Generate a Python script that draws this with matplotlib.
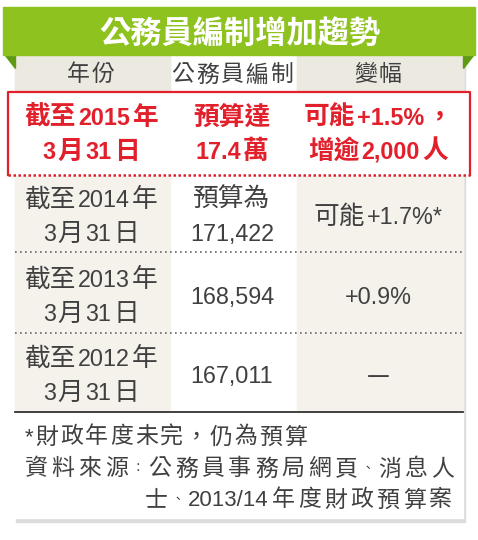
import re
import matplotlib.pyplot as plt
from matplotlib.patches import Rectangle, Polygon

plt.rcParams['font.family'] = ['Noto Sans CJK TC', 'DejaVu Sans']

title = '公務員編制增加趨勢'
headers = ['年份', '公務員編制', '變幅']
years = ['截至2015年\n3月31日', '截至2014年\n3月31日', '截至2013年\n3月31日', '截至2012年\n3月31日']
staff = ['預算達\n17.4萬', '預算為\n171,422', '168,594', '167,011']
change = ['可能+1.5%，\n增逾2,000人', '可能+1.7%*', '+0.9%', '—']
notes = ['*財政年度未完，仍為預算',
         '資料來源：公務員事務局網頁、消息人',
         '士、2013/14年度財政預算案']

GREEN = '#8dc21f'
DGREEN = '#5e9a12'
RED = '#e2202c'
BEIGE = '#f5f2ec'
HEAD = '#ece9e1'
TXT = '#404040'

fig = plt.figure(figsize=(4.78, 5.4), dpi=100)
ax = fig.add_axes([0, 0, 1, 1])
ax.set_xlim(0, 478)
ax.set_ylim(540, 0)
ax.axis('off')
rend = fig.canvas.get_renderer()

LAT = r'[0-9A-Za-z.,/%+*]+'
NARROW = '、：'


def spaced(x, y, s, size, track=1, lat=None, ha='center', per_char=False, **kw):
    # latin runs in Liberation Sans, CJK in Noto; y is the visual centre
    lat = lat or size * 0.92
    if per_char:
        toks = re.findall(LAT + r'|.', s)
    else:
        toks = re.findall(LAT + r'|[^0-9A-Za-z.,/%+*]+', s)
    base = y + 0.37 * size * 100 / 72
    items = []
    for tk in toks:
        b = base
        if re.fullmatch(LAT, tk):
            fk = dict(fontsize=lat, family='Liberation Sans')
        elif per_char and tk in NARROW:
            # centred punctuation drawn smaller so it takes less room
            fk = dict(fontsize=size * 0.55)
            b = base - 0.45 * 0.37 * size * 100 / 72
        else:
            fk = dict(fontsize=size)
        t = ax.text(0, 0, tk, **fk, **kw)
        w = t.get_window_extent(rend).width
        t.remove()
        items.append((tk, fk, w, b))
    total = sum(it[2] for it in items) + track * (len(items) - 1)
    start = {'left': x, 'right': x - total}.get(ha, x - total / 2)
    for tk, fk, w, b in items:
        ax.text(start, b, tk, ha='left', va='baseline', **fk, **kw)
        start += w + track


# card shadow + card
ax.add_patch(Rectangle((16, 58), 449, 464, color='#dcdcdc', zorder=0))
ax.add_patch(Rectangle((15, 55), 448, 463, color='white', zorder=1))

cols = [15, 170, 297, 463]
ax.add_patch(Rectangle((cols[0], 55), cols[1]-cols[0], 357, color=BEIGE, zorder=1))
ax.add_patch(Rectangle((cols[2], 55), cols[3]-cols[2], 357, color=BEIGE, zorder=1))
ax.add_patch(Rectangle((cols[0], 55), cols[1]-cols[0], 35, color=HEAD, zorder=2))
ax.add_patch(Rectangle((cols[2], 55), cols[3]-cols[2], 35, color=HEAD, zorder=2))

# green ribbon
ax.add_patch(Polygon([[5, 55], [15, 55], [15, 68]], color=DGREEN, zorder=2))
ax.add_patch(Polygon([[473, 55], [463, 55], [463, 68]], color=DGREEN, zorder=2))
ax.add_patch(Rectangle((3, 7), 472, 48, color=GREEN, zorder=3))
spaced(240, 31, title, 22.5, 0.5, color='white', fontweight='bold', zorder=4)

centers = [91, 232, 378]
for cx, h in zip(centers, headers):
    spaced(cx, 73, h, 16.5, 2, per_char=True, color=TXT, zorder=4)

# highlighted row
ax.add_patch(Rectangle((8, 92), 462, 83, color='white', zorder=3))
ax.plot([8, 8, 470, 470], [175, 92, 92, 175], color=RED, lw=1.6, zorder=4)
ax.plot([8, 470], [175, 175], color=RED, linestyle=(0, (1, 1)), lw=1.8, zorder=4)

row_y = [132, 214, 294, 373]
for i in range(4):
    red = i == 0
    kw = dict(color=RED if red else TXT, fontweight='bold' if red else 'normal', zorder=5)
    for cx, cell in zip(centers, [years[i], staff[i], change[i]]):
        lines = cell.split('\n')
        off = 17 * (len(lines) - 1)
        for j, ln in enumerate(lines):
            spaced(cx, row_y[i] - off + 34 * j, ln, 18.5, 2, lat=16.8, **kw)

# separators
for y in [252, 333]:
    ax.plot([15, 463], [y, y], color='#666666', linestyle=(0, (1, 2)), lw=1.2, zorder=4)
ax.plot([15, 463], [412, 412], color='#333333', lw=1.3, zorder=4)

# notes
spaced(25, 435, notes[0], 16.5, 2, lat=16, ha='left', per_char=True, color=TXT, zorder=5)
spaced(25, 467, notes[1], 16.5, 3.8, lat=16, ha='left', per_char=True, color=TXT, zorder=5)
spaced(452, 498, notes[2], 16.5, 3.4, lat=16, ha='right', per_char=True, color=TXT, zorder=5)

fig.savefig('out.png', dpi=100, facecolor='white')
